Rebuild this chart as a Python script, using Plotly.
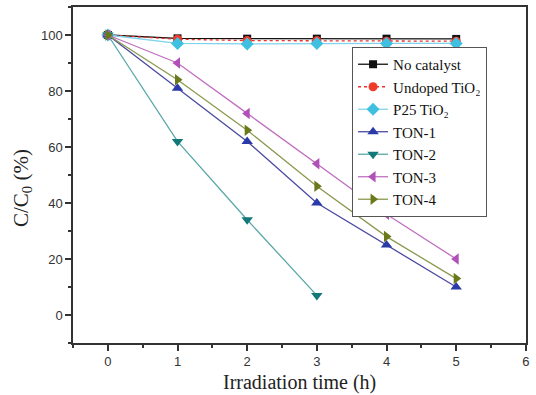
import plotly.graph_objects as go

time_h = [0, 1, 2, 3, 4, 5]
time_ton2 = [0, 1, 2, 3]
no_catalyst = [100, 98.8, 98.7, 98.7, 98.7, 98.6]
undoped_tio2 = [100, 98.5, 98.0, 98.0, 97.8, 97.8]
p25_tio2 = [100, 97.0, 96.8, 97.0, 97.0, 97.0]
ton1 = [100, 81, 62, 40, 25, 10]
ton2 = [100, 62, 34, 7]
ton3 = [100, 90, 72, 54, 36, 20]
ton4 = [100, 84, 66, 46, 28, 13]

series = [
    ("No catalyst", time_h, no_catalyst, "#111111", "#111111", "square", "solid", 8),
    ("Undoped TiO₂", time_h, undoped_tio2, "#e8312a", "#f03a2a", "circle", "dot", 9),
    ("P25 TiO₂", time_h, p25_tio2, "#7fd3ea", "#3fc0e0", "diamond", "solid", 10),
    ("TON-1", time_h, ton1, "#4a4aa0", "#2a3aa8", "triangle-up", "solid", 10),
    ("TON-2", time_ton2, ton2, "#5aa8a8", "#137878", "triangle-down", "solid", 10),
    ("TON-3", time_h, ton3, "#c070c0", "#b050b8", "triangle-left", "solid", 10),
    ("TON-4", time_h, ton4, "#8a9a50", "#6a7a1a", "triangle-right", "solid", 10),
]

fig = go.Figure()
for name, x, y, lc, mc, sym, dash, size in series:
    fig.add_trace(go.Scatter(
        x=x, y=y, name=name, mode="lines+markers",
        line=dict(color=lc, width=1.3, dash=dash),
        marker=dict(color=mc, symbol=sym, size=size, line=dict(width=0)),
    ))

serif = "Liberation Serif, Times New Roman, serif"
fig.update_layout(
    width=536, height=395,
    margin=dict(l=73, r=10, t=7, b=52),
    paper_bgcolor="white", plot_bgcolor="white",
    showlegend=True,
    legend=dict(
        x=0.616, y=0.881, xanchor="left", yanchor="top",
        bgcolor="white", bordercolor="#555555", borderwidth=1,
        font=dict(family=serif, size=15, color="#111111"),
        tracegroupgap=0,
    ),
    font=dict(family="Liberation Sans, Arial, sans-serif", color="#333333"),
    annotations=[
        dict(text="Irradiation time (h)", xref="paper", yref="paper",
             x=0.5, y=0, yshift=-26, xanchor="center", yanchor="top", showarrow=False,
             font=dict(family=serif, size=20, color="#222222")),
        dict(text="C/C<sub>0</sub> (%)", xref="paper", yref="paper",
             x=0, y=0.5, xshift=-36, yshift=-13, xanchor="right", yanchor="middle", showarrow=False,
             textangle=-90, font=dict(family=serif, size=21, color="#222222")),
    ],
)
fig.update_xaxes(
    range=[-0.5, 6.002], tickmode="array", tickvals=[0, 1, 2, 3, 4, 5, 6],
    ticks="outside", ticklen=6, tickwidth=1.5, tickcolor="#333333",
    minor=dict(ticks="outside", ticklen=3, dtick=0.5, tick0=0, tickcolor="#333333"),
    showline=True, linecolor="#333333", linewidth=1.5, mirror=True,
    showgrid=False, zeroline=False, automargin=False,
    tickfont=dict(size=13, color="#333333"),
)
fig.update_yaxes(
    range=[-10, 110], tickmode="array", tickvals=[0, 20, 40, 60, 80, 100],
    ticks="outside", ticklen=6, tickwidth=1.5, tickcolor="#333333",
    minor=dict(ticks="outside", ticklen=3, dtick=10, tick0=0, tickcolor="#333333"),
    showline=True, linecolor="#333333", linewidth=1.5, mirror=True,
    showgrid=False, zeroline=False, automargin=False,
    tickfont=dict(size=13, color="#333333"),
)

fig.write_html("out.html", config={"displayModeBar": False},
               post_script="document.body.style.margin='0';document.body.style.overflow='hidden';")
